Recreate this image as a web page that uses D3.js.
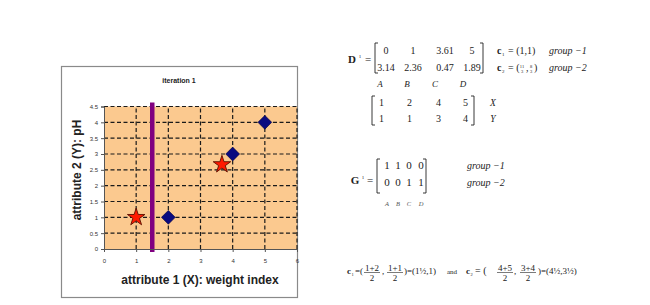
<html>
<head>
<meta charset="utf-8">
<script src="https://cdn.jsdelivr.net/npm/d3@7"></script>
<style>
  body { margin: 0; background: #fff; }
  .serif { font-family: "Liberation Serif", "Times New Roman", serif; }
</style>
</head>
<body>
<svg id="chart" width="650" height="305"></svg>
<script>
// data
const objects = ["A", "B", "C", "D"];
const attrX = [1, 2, 4, 5];
const attrY = [1, 1, 3, 4];
const centroidX = [1, 11 / 3];
const centroidY = [1, 8 / 3];
const boundaryX = 1.5;
const xTicks = [0, 1, 2, 3, 4, 5, 6];
const yTicks = [0, 0.5, 1, 1.5, 2, 2.5, 3, 3.5, 4, 4.5];
const distRows = [["0", "1", "3.61", "5"], ["3.14", "2.36", "0.47", "1.89"]];
const groupRows = [[1, 1, 0, 0], [0, 0, 1, 1]];

const svg = d3.select("#chart");

// ---- chart box ----
svg.append("rect")
    .attr("x", 61.5).attr("y", 66.5).attr("width", 236).attr("height", 231)
    .attr("fill", "#fff").attr("stroke", "#8a8a8a").attr("stroke-width", 1.2);

const x = d3.scaleLinear().domain([0, 6]).range([104, 297]);
const y = d3.scaleLinear().domain([0, 4.5]).range([249, 106.5]);

const plot = svg.append("g");
plot.append("rect")
    .attr("x", x(0)).attr("y", y(4.5))
    .attr("width", x(6) - x(0)).attr("height", y(0) - y(4.5))
    .attr("fill", "#fbc98f");

// dashed grid
plot.selectAll("line.gx").data(xTicks.slice(1)).enter().append("line")
    .attr("x1", d => x(d)).attr("x2", d => x(d))
    .attr("y1", y(0)).attr("y2", y(4.5))
    .attr("stroke", "#1a1a1a").attr("stroke-width", 1.2)
    .attr("stroke-dasharray", "4,2.5");
plot.selectAll("line.gy").data(yTicks.slice(1)).enter().append("line")
    .attr("x1", x(0)).attr("x2", x(6))
    .attr("y1", d => y(d)).attr("y2", d => y(d))
    .attr("stroke", "#1a1a1a").attr("stroke-width", 1.2)
    .attr("stroke-dasharray", "4,2.5");

// axes
const xAxis = d3.axisBottom(x).tickValues(xTicks).tickSize(3).tickFormat(d3.format("d"));
const yAxis = d3.axisLeft(y).tickValues(yTicks).tickSize(3).tickFormat(d => d);
const gx = svg.append("g").attr("transform", `translate(0,${y(0)})`).call(xAxis);
const gy = svg.append("g").attr("transform", `translate(${x(0)},0)`).call(yAxis);
[gx, gy].forEach(g => {
    g.selectAll("path, line").attr("stroke", "#555");
    g.selectAll("text").attr("font-family", "Arial, 'Liberation Sans', sans-serif")
        .attr("font-size", 6).attr("fill", "#333");
});
gx.selectAll("text").attr("dy", "1.3em");

// boundary line
plot.append("line")
    .attr("x1", x(boundaryX)).attr("x2", x(boundaryX))
    .attr("y1", y(4.5) - 4).attr("y2", y(0) + 3)
    .attr("stroke", "#800080").attr("stroke-width", 4.5);

// objects (diamonds) and centroids (stars)
const pts = objects.map((o, i) => ({ o, x: attrX[i], y: attrY[i] }))
    .filter(d => !(d.x === centroidX[0] && d.y === centroidY[0]));
plot.selectAll("path.obj").data(pts).enter().append("path")
    .attr("d", d3.symbol(d3.symbolSquare, 95))
    .attr("transform", d => `translate(${x(d.x)},${y(d.y)}) rotate(45)`)
    .attr("fill", "#0a0a80").attr("stroke", "#000040").attr("stroke-width", 0.6);

const cents = centroidX.map((cx, i) => ({ x: cx, y: centroidY[i] }));
plot.selectAll("path.cent").data(cents).enter().append("path")
    .attr("d", d3.symbol(d3.symbolStar, 95))
    .attr("transform", d => `translate(${x(d.x)},${y(d.y)})`)
    .attr("fill", "#ff1a00").attr("stroke", "#5a1000").attr("stroke-width", 0.9);

// titles
const sans = "Arial, 'Liberation Sans', sans-serif";
svg.append("text").attr("x", 179).attr("y", 83).attr("text-anchor", "middle")
    .attr("font-family", sans).attr("font-weight", "bold").attr("font-size", 7)
    .attr("fill", "#222").text("iteration 1");
svg.append("text").attr("transform", "translate(81,170) rotate(-90)")
    .attr("text-anchor", "middle")
    .attr("font-family", sans).attr("font-weight", "bold").attr("font-size", 12)
    .attr("fill", "#222").text("attribute 2 (Y): pH");
svg.append("text").attr("x", 200).attr("y", 284).attr("text-anchor", "middle")
    .attr("font-family", sans).attr("font-weight", "bold").attr("font-size", 12)
    .attr("fill", "#222").text("attribute 1 (X): weight index");

// ---- equations on the right ----
const eq = svg.append("g").attr("class", "serif").attr("fill", "#222");

function bracket(g, xl, xr, y0, y1) {
    const w = 3;
    g.append("path").attr("d", `M${xl + w},${y0} H${xl} V${y1} H${xl + w}`)
        .attr("fill", "none").attr("stroke", "#222").attr("stroke-width", 0.9);
    g.append("path").attr("d", `M${xr - w},${y0} H${xr} V${y1} H${xr - w}`)
        .attr("fill", "none").attr("stroke", "#222").attr("stroke-width", 0.9);
}
function txt(g, tx, ty, s, opts = {}) {
    return g.append("text").attr("x", tx).attr("y", ty)
        .attr("text-anchor", opts.anchor || "middle")
        .attr("font-size", opts.size || 10)
        .attr("font-style", opts.italic ? "italic" : null)
        .attr("font-weight", opts.bold ? "bold" : null)
        .text(s);
}

// D1 distance matrix
txt(eq, 352, 63, "D", { bold: true, size: 11 });
txt(eq, 360, 58, "1", { size: 5 });
txt(eq, 368, 63, "=", { size: 11 });
bracket(eq, 375, 483, 43, 73);
const dCols = [386, 413, 445, 472];
distRows.forEach((row, r) => row.forEach((v, c) =>
    txt(eq, dCols[c], 54 + r * 17, v)));
txt(eq, 497, 54, "c", { anchor: "start", bold: true });
txt(eq, 502, 56, "1", { anchor: "start", size: 5 });
txt(eq, 508, 54, "= (1,1)", { anchor: "start" });
txt(eq, 549, 54, "group \u22121", { anchor: "start", italic: true });
txt(eq, 497, 71, "c", { anchor: "start", bold: true });
txt(eq, 502, 73, "2", { anchor: "start", size: 5 });
txt(eq, 508, 71, "= (", { anchor: "start" });
txt(eq, 522, 68, "11", { size: 4.5 }); txt(eq, 522, 73, "3", { size: 4.5 });
txt(eq, 526, 71, ",", { anchor: "start" });
txt(eq, 531, 68, "8", { size: 4.5 }); txt(eq, 531, 73, "3", { size: 4.5 });
txt(eq, 534, 71, ")", { anchor: "start" });
txt(eq, 549, 71, "group \u22122", { anchor: "start", italic: true });
const lCols = [380, 407, 435, 463];
objects.forEach((o, i) => txt(eq, lCols[i], 87, o, { italic: true, size: 9 }));

// attribute matrix
bracket(eq, 372, 474, 96, 125);
const aCols = [379, 407, 436, 463];
[attrX, attrY].forEach((row, r) => row.forEach((v, c) =>
    txt(eq, aCols[c], 106 + r * 16, v, { anchor: "start" })));
txt(eq, 493, 106, "X", { italic: true, size: 9.5 });
txt(eq, 493, 122, "Y", { italic: true, size: 9.5 });

// G1 group matrix
txt(eq, 355, 184, "G", { bold: true, size: 11 });
txt(eq, 363, 179, "1", { size: 5 });
txt(eq, 370, 184, "=", { size: 11 });
bracket(eq, 377, 426, 159, 193);
const gCols = [387, 398, 409, 421];
groupRows.forEach((row, r) => row.forEach((v, c) =>
    txt(eq, gCols[c], 169 + r * 17, v, { size: 11 })));
txt(eq, 467, 169, "group \u22121", { anchor: "start", italic: true });
txt(eq, 467, 186, "group \u22122", { anchor: "start", italic: true });
objects.forEach((o, i) => txt(eq, gCols[i], 206, o, { italic: true, size: 6.5 })
    .attr("fill", "#555"));

// centroid formula
function frac(g, fx, fy, num, den, size) {
    txt(g, fx, fy - 3, num, { size });
    g.append("line").attr("x1", fx - 8).attr("x2", fx + 8)
        .attr("y1", fy - 1.5).attr("y2", fy - 1.5)
        .attr("stroke", "#222").attr("stroke-width", 0.6);
    txt(g, fx, fy + 6.5, den, { size });
}
const fy = 274;
txt(eq, 347, fy, "c", { anchor: "start", bold: true, size: 9 });
txt(eq, 351.5, fy + 2, "1", { anchor: "start", size: 4.5 });
txt(eq, 355, fy, "=(", { anchor: "start", size: 9 });
frac(eq, 372, fy, "1+2", "2", 9);
txt(eq, 382, fy, ",", { anchor: "start", size: 9 });
frac(eq, 395, fy, "1+1", "2", 9);
txt(eq, 404, fy, ")=(1\u00bd,1)", { anchor: "start", size: 9 });
txt(eq, 447, fy, "and", { anchor: "start", size: 7 });
txt(eq, 466, fy, "c", { anchor: "start", bold: true, size: 9 });
txt(eq, 470.5, fy + 2, "2", { anchor: "start", size: 4.5 });
txt(eq, 475, fy, "= (", { anchor: "start", size: 10 });
frac(eq, 505, fy, "4+5", "2", 9);
txt(eq, 514, fy, ",", { anchor: "start", size: 9 });
frac(eq, 528, fy, "3+4", "2", 9);
txt(eq, 538, fy, ")=(4\u00bd,3\u00bd)", { anchor: "start", size: 9 });
</script>
</body>
</html>
